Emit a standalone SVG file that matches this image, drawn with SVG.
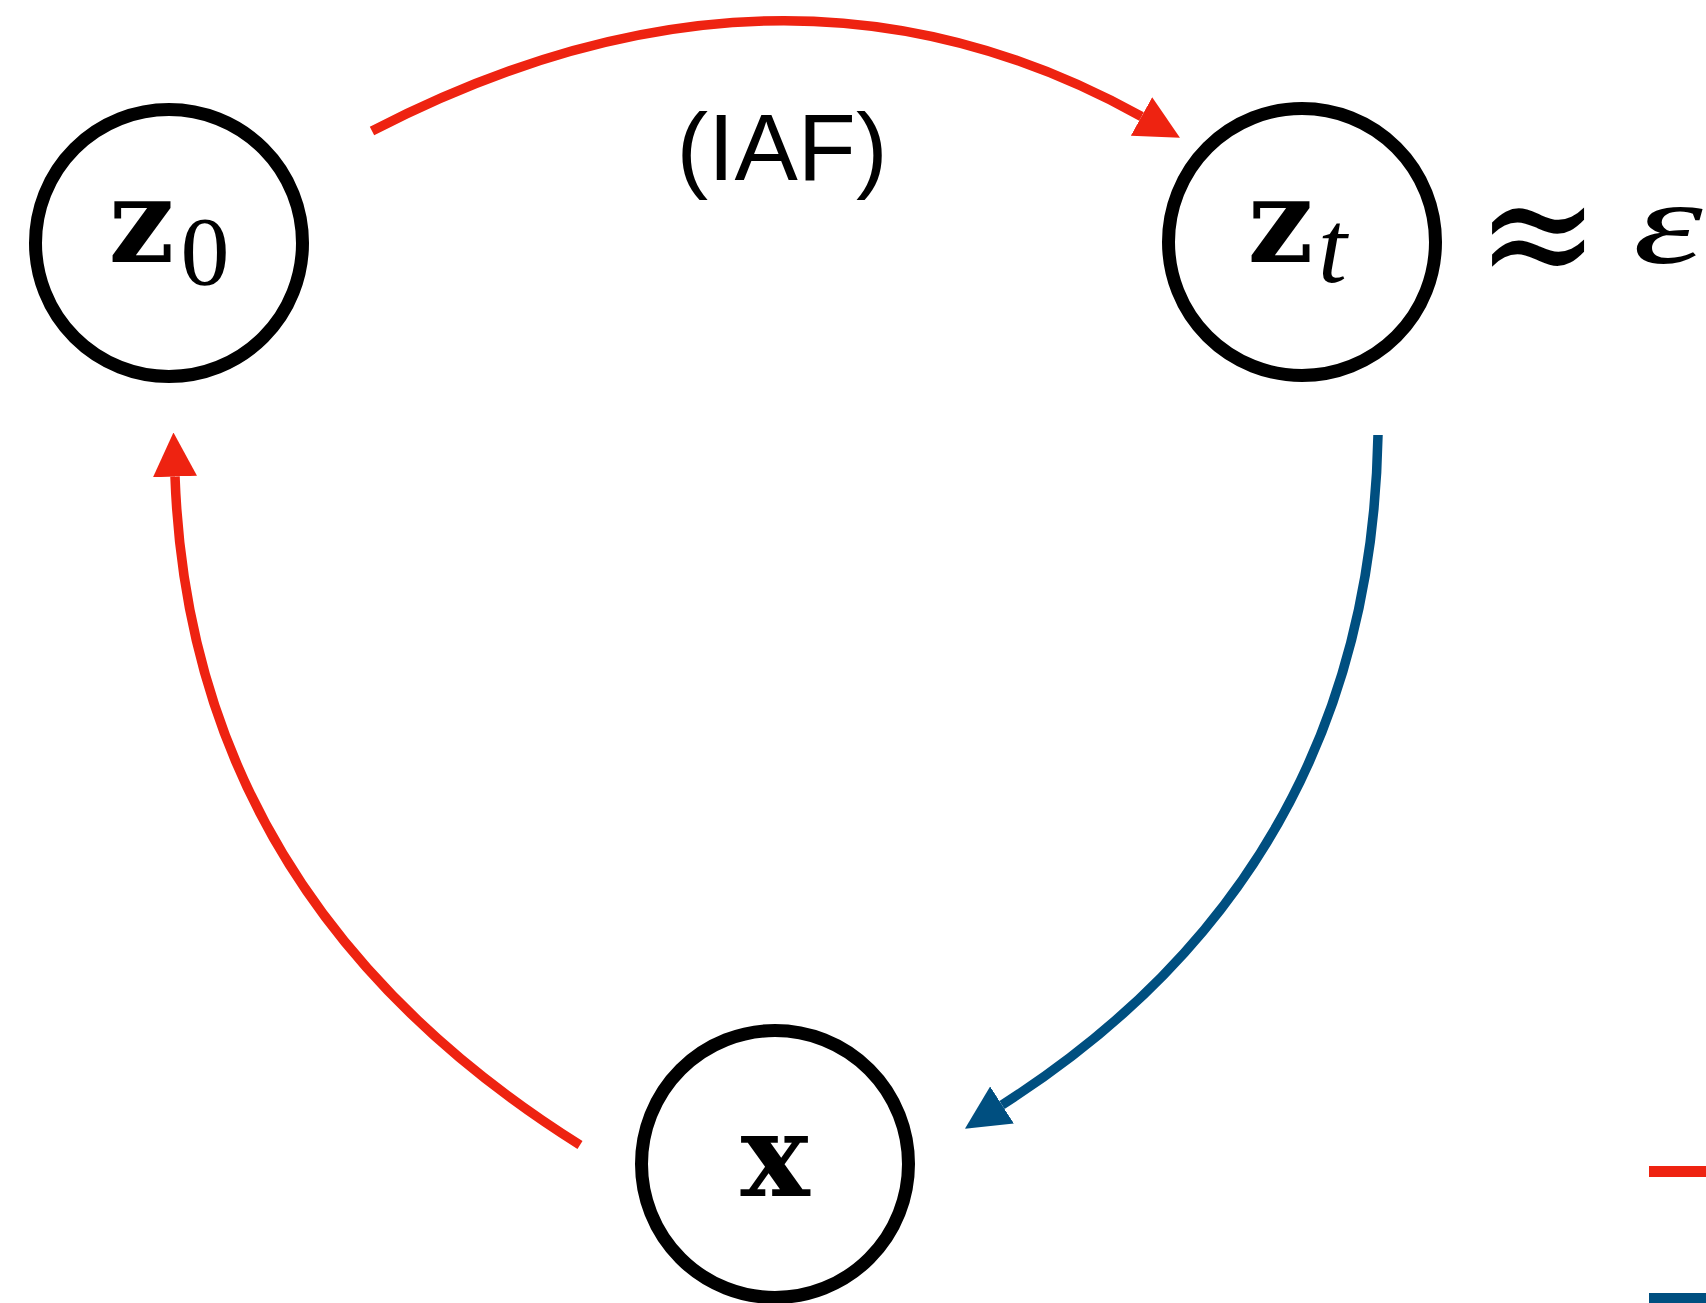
<svg xmlns="http://www.w3.org/2000/svg" width="1706" height="1303" viewBox="0 0 1706 1303">
<defs>
<style>
.node{fill:#fff;stroke:#000;stroke-width:13}
.red{fill:none;stroke:#EE2311;stroke-width:9.5}
.blue{fill:none;stroke:#004F80;stroke-width:9.5}
.bold{font-family:"DejaVu Serif",serif;font-weight:bold;font-size:116px;fill:#000}
.sub{font-family:"Liberation Serif",serif;font-size:98px;fill:#000}
.ital{font-family:"Liberation Serif",serif;font-style:italic;fill:#000}
.lab{font-family:"Liberation Sans",Arial,sans-serif;font-size:95px;fill:#000}
</style>
<marker id="ar" markerUnits="userSpaceOnUse" viewBox="0 0 44 44" refX="0" refY="22" markerWidth="44" markerHeight="44" orient="auto">
<path d="M0,0 L44,22 L0,44 z" fill="#EE2311"/>
</marker>
<marker id="ab" markerUnits="userSpaceOnUse" viewBox="0 0 44 44" refX="0" refY="22" markerWidth="44" markerHeight="44" orient="auto">
<path d="M0,0 L44,22 L0,44 z" fill="#004F80"/>
</marker>
</defs>
<rect width="1706" height="1303" fill="#fff"/>
<g id="connectors">
<path class="red" d="M372,131 Q784,-82 1141.5,116.5" marker-end="url(#ar)"/>
<path class="blue" d="M1378,435 Q1370,870 1002,1105" marker-end="url(#ab)"/>
<path class="red" d="M580,1145 Q190,900 175,476.5" marker-end="url(#ar)"/>
</g>
<g id="node-z0">
<circle class="node" cx="169" cy="243" r="133.5"/>
<text class="bold" x="141.5" y="262" text-anchor="middle">z</text>
<text class="sub" x="205" y="284" text-anchor="middle">0</text>
</g>
<g id="node-zt">
<circle class="node" cx="1302" cy="242" r="133.5"/>
<text class="bold" x="1280.5" y="262" text-anchor="middle">z</text>
<text class="ital" x="1318" y="282" font-size="104">t</text>
</g>
<g id="node-x">
<circle class="node" cx="775" cy="1164" r="133.5"/>
<text class="bold" x="775" y="1196" text-anchor="middle" font-size="122">x</text>
</g>
<g id="label-iaf">
<text class="lab" x="782" y="180" text-anchor="middle">(IAF)</text>
</g>
<g id="label-approx">
<text transform="translate(1538,237) scale(1,1.15)" x="0" y="46" text-anchor="middle" font-family="DejaVu Serif,serif" font-size="147">≈</text>
<text class="ital" transform="translate(1633,263) scale(1.5,1)" x="0" y="0" font-size="118">ε</text>
</g>
<g id="legend">
<line x1="1649" y1="1171.5" x2="1706" y2="1171.5" stroke="#EE2311" stroke-width="11"/>
<line x1="1649" y1="1298.5" x2="1706" y2="1298.5" stroke="#004F80" stroke-width="11"/>
</g>
</svg>
